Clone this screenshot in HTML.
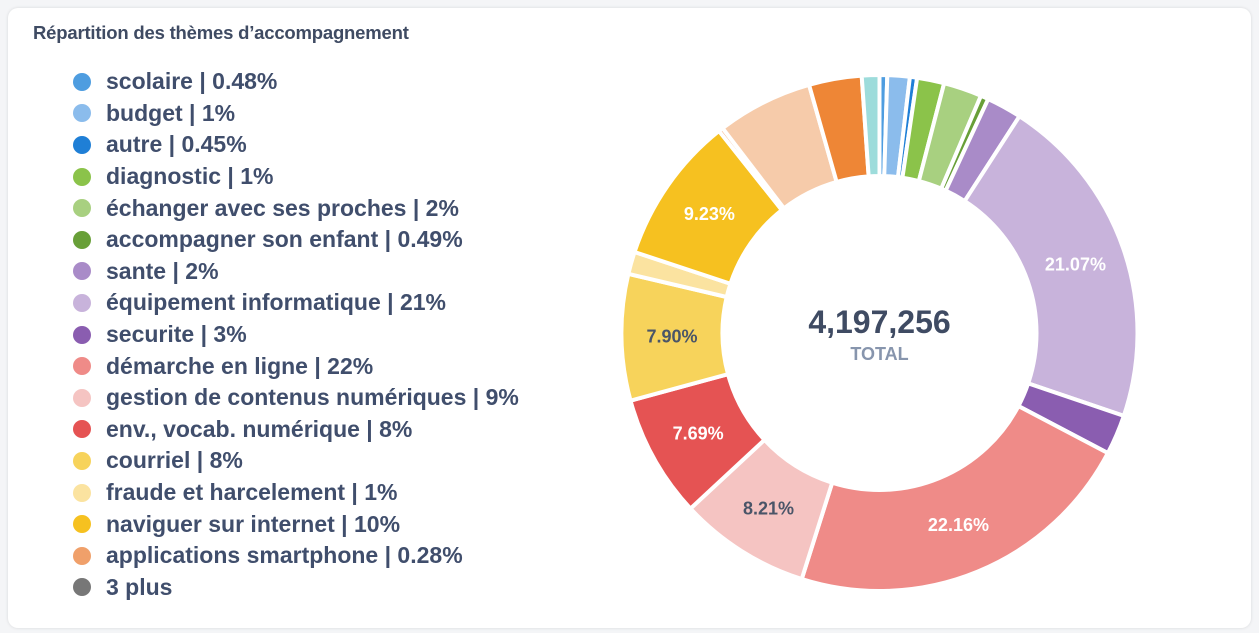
<!DOCTYPE html>
<html><head><meta charset="utf-8"><style>
body{margin:0;width:1259px;height:633px;background:#f4f5f7;font-family:"Liberation Sans",sans-serif;overflow:hidden}
.card{position:absolute;left:8px;top:8px;width:1243px;height:620px;background:#fff;border-radius:10px;box-shadow:0 0 3px rgba(0,0,0,.12)}
.title{position:absolute;left:33px;top:22px;font-size:18.5px;font-weight:bold;color:#3f4b63;letter-spacing:-0.2px}
.leg{position:absolute;left:73px;top:66px}
.row{height:31.6px;display:flex;align-items:center;font-size:23px;font-weight:bold;color:#404e6c;white-space:nowrap}
.dot{width:18px;height:18px;border-radius:50%;margin-right:15px}
</style></head><body>
<div class="card"></div>
<div class="title">Répartition des thèmes d’accompagnement</div>
<div class="leg" id="leg"></div>
<svg id="chart" width="1259" height="633" style="position:absolute;left:0;top:0"></svg>
<script>
const categories=["scolaire","budget","autre","diagnostic","échanger avec ses proches","accompagner son enfant","sante","équipement informatique","securite","démarche en ligne","gestion de contenus numériques","env., vocab. numérique","courriel","fraude et harcelement","naviguer sur internet","applications smartphone","autre-a","autre-b","autre-c"];
const values=[0.48,1.4,0.45,1.7,2.4,0.49,2.2,21.07,2.5,22.16,8.21,7.69,7.90,1.4,9.23,0.28,6.0,3.3,1.1];
const legendLabels=["0.48%","1%","0.45%","1%","2%","0.49%","2%","21%","3%","22%","9%","8%","8%","1%","10%","0.28%"];
const colors=["#4e9de0","#8bbcec","#1f7fd6","#8bc34a","#a8d080","#689f38","#a98bc8","#c8b3db","#8a5db0","#ef8b88","#f5c4c2","#e55353","#f7d35b","#fbe3a0","#f6c120","#f0a06a","#f6cbaa","#ee8636","#9ddcdb"];
const darkLabel=[10,12];
const total="4,197,256";
const NS="http://www.w3.org/2000/svg";
const svg=document.getElementById('chart');
const cx=879.5,cy=333,R=258,r=157;
const sum=values.reduce((a,b)=>a+b,0);
function pt(a,rad){return [cx+rad*Math.sin(a),cy-rad*Math.cos(a)];}
let acc=0;
values.forEach((v,i)=>{
  const a0=acc/sum*2*Math.PI,a1=(acc+v)/sum*2*Math.PI;acc+=v;
  const large=(a1-a0)>Math.PI?1:0;
  const [x0,y0]=pt(a0,R),[x1,y1]=pt(a1,R),[x2,y2]=pt(a1,r),[x3,y3]=pt(a0,r);
  const p=document.createElementNS(NS,'path');
  p.setAttribute('d',`M${x0},${y0}A${R},${R} 0 ${large} 1 ${x1},${y1}L${x2},${y2}A${r},${r} 0 ${large} 0 ${x3},${y3}Z`);
  p.setAttribute('fill',colors[i]);p.setAttribute('stroke','#fff');p.setAttribute('stroke-width','4');
  
  
  svg.appendChild(p);
  if(v/sum>0.07){
    const am=(a0+a1)/2;const [tx,ty]=pt(am,(R+r)/2);
    const t=document.createElementNS(NS,'text');
    t.setAttribute('x',tx);t.setAttribute('y',ty+6);t.setAttribute('text-anchor','middle');
    t.setAttribute('font-size','18');t.setAttribute('font-weight','bold');
    t.setAttribute('font-family','Liberation Sans, sans-serif');
    t.setAttribute('fill',darkLabel.includes(i)?'#4a5568':'#fff');
    t.textContent=v.toFixed(2)+'%';
    
    
    svg.appendChild(t);
  }
});
const tt=document.createElementNS(NS,'text');
tt.setAttribute('x',cx);tt.setAttribute('y',cy);tt.setAttribute('text-anchor','middle');
tt.setAttribute('font-size','32');tt.setAttribute('font-weight','bold');tt.setAttribute('fill','#3f4b63');
tt.setAttribute('font-family','Liberation Sans, sans-serif');tt.textContent=total;


svg.appendChild(tt);
const tl=document.createElementNS(NS,'text');
tl.setAttribute('x',cx);tl.setAttribute('y',cy+27);tl.setAttribute('text-anchor','middle');
tl.setAttribute('font-size','18');tl.setAttribute('font-weight','bold');tl.setAttribute('fill','#8795ad');
tl.setAttribute('font-family','Liberation Sans, sans-serif');tl.textContent='TOTAL';


svg.appendChild(tl);
const leg=document.getElementById('leg');
legendLabels.forEach((l,i)=>{
  const d=document.createElement('div');d.className='row';
  
  
  d.innerHTML=`<span class="dot" style="background:${colors[i]}"></span>${categories[i]} | ${l}`;
  leg.appendChild(d);
});
const d=document.createElement('div');d.className='row';


d.innerHTML='<span class="dot" style="background:#777"></span>3 plus';
leg.appendChild(d);
</script>
</body></html>
